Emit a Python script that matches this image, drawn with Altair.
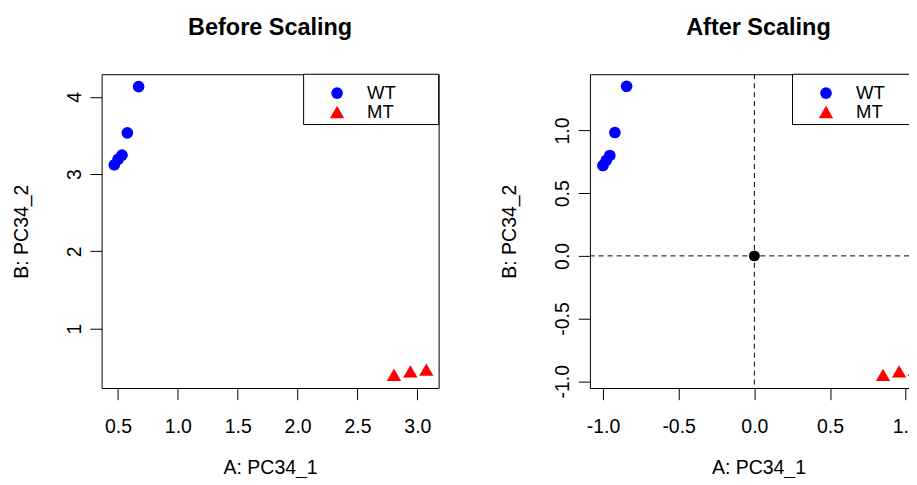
import altair as alt
import pandas as pd

FONT = "Liberation Sans"

groups = ["WT", "MT"]
colors = ["#0000FF", "#FF0000"]
shapes = ["circle", "triangle-up"]

# Before scaling
before_wt_x = [0.469, 0.500, 0.533, 0.578, 0.672]
before_wt_y = [3.121, 3.190, 3.245, 3.535, 4.133]
before_mt_x = [2.805, 2.942, 3.075]
before_mt_y = [0.402, 0.447, 0.469]

# After scaling
after_wt_x = [-1.000, -0.978, -0.955, -0.921, -0.844]
after_wt_y = [0.721, 0.762, 0.801, 0.984, 1.353]
after_mt_x = [0.850, 0.956, 1.059]
after_mt_y = [-0.949, -0.921, -0.907]
origin_x = [0.0]
origin_y = [0.0]

before_x_ticks = [0.5, 1.0, 1.5, 2.0, 2.5, 3.0]
before_y_ticks = [1, 2, 3, 4]
after_x_ticks = [-1.0, -0.5, 0.0, 0.5, 1.0]
after_y_ticks = [-1.0, -0.5, 0.0, 0.5, 1.0]

W = 337.7
H = 314.4


def make_df(wx, wy, mx, my):
    return pd.DataFrame({
        "x": wx + mx,
        "y": wy + my,
        "group": ["WT"] * len(wx) + ["MT"] * len(mx),
    })


def panel(df, title, xdom, ydom, xticks, yticks, xlabel_expr, ylabel_expr,
          legend_box_x, with_origin):
    xscale = alt.Scale(domain=xdom, nice=False, zero=False)
    yscale = alt.Scale(domain=ydom, nice=False, zero=False)
    xaxis = alt.Axis(values=xticks, title="A: PC34_1", labelExpr=xlabel_expr,
                     domain=False, grid=False, tickSize=11.7, tickColor="black",
                     tickWidth=1, labelFont=FONT, labelFontSize=19.5,
                     labelColor="black", labelBaseline="alphabetic",
                     labelPadding=32.6, labelFlush=False, labelOverlap=False,
                     titleFont=FONT, titleFontSize=19.5, titleFontWeight="normal",
                     titleColor="black", titleBaseline="alphabetic",
                     titleX=W / 2, titleY=85.8, titleAlign="center")
    yaxis = alt.Axis(values=yticks, title="B: PC34_2", labelExpr=ylabel_expr,
                     domain=False, grid=False, tickSize=11.7, tickColor="black",
                     tickWidth=1, labelFont=FONT, labelFontSize=19.5,
                     labelColor="black", labelAngle=270, labelAlign="center",
                     labelBaseline="alphabetic", labelPadding=9.5,
                     labelFlush=False, labelOverlap=False,
                     titleFont=FONT, titleFontSize=19.5, titleFontWeight="normal",
                     titleColor="black", titleAngle=270,
                     titleBaseline="alphabetic", titleX=-74.5, titleY=H / 2,
                     titleAlign="center")
    leg = alt.Legend(orient="none", legendX=legend_box_x + 24.3, legendY=9.6,
                     title=None, symbolSize=100, symbolStrokeWidth=0,
                     symbolOpacity=1, labelFont=FONT, labelFontSize=18.5,
                     labelColor="black", labelOffset=20.8, padding=0,
                     rowPadding=-4.5)

    frame_df = pd.DataFrame({"a": [0]})
    frame = alt.Chart(frame_df).mark_rect(
        fill="white", stroke="black", strokeWidth=1
    ).encode(
        x=alt.value(legend_box_x), x2=alt.value(W),
        y=alt.value(0), y2=alt.value(50.4)
    )

    pts = alt.Chart(df).mark_point(filled=True, opacity=1).encode(
        x=alt.X("x:Q", scale=xscale, axis=xaxis),
        y=alt.Y("y:Q", scale=yscale, axis=yaxis),
        color=alt.Color("group:N", scale=alt.Scale(domain=groups, range=colors),
                        legend=leg),
        shape=alt.Shape("group:N", scale=alt.Scale(domain=groups, range=shapes),
                        legend=leg),
        size=alt.Size("group:N", scale=alt.Scale(domain=groups, range=[137, 205]),
                      legend=None),
    )

    layers = [frame, pts]
    if with_origin:
        odf = pd.DataFrame({"x": origin_x, "y": origin_y})
        vrule = alt.Chart(odf).mark_rule(
            color="black", strokeWidth=1, strokeDash=[5, 4]
        ).encode(x=alt.X("x:Q", scale=xscale, axis=xaxis))
        hrule = alt.Chart(odf).mark_rule(
            color="black", strokeWidth=1, strokeDash=[5, 4]
        ).encode(y=alt.Y("y:Q", scale=yscale, axis=yaxis))
        opt = alt.Chart(odf).mark_circle(color="black", opacity=1, size=121).encode(
            x=alt.X("x:Q", scale=xscale, axis=xaxis),
            y=alt.Y("y:Q", scale=yscale, axis=yaxis),
        )
        layers = [vrule, hrule, frame, pts, opt]

    return alt.layer(*layers).properties(
        width=W, height=H,
        title=alt.TitleParams(title, font=FONT, fontSize=23.5, fontWeight="bold",
                              color="black", anchor="middle",
                              baseline="alphabetic", offset=15.4),
    )


left = panel(make_df(before_wt_x, before_wt_y, before_mt_x, before_mt_y),
             "Before Scaling", [0.363, 3.178], [0.231, 4.293],
             before_x_ticks, before_y_ticks,
             "format(datum.value, '.1f')", "format(datum.value, 'd')",
             202.4, False)
right = panel(make_df(after_wt_x, after_wt_y, after_mt_x, after_mt_y),
              "After Scaling", [-1.086, 1.140], [-1.054, 1.449],
              after_x_ticks, after_y_ticks,
              "(datum.value < 0 ? '-' : '') + format(abs(datum.value), '.1f')",
              "(datum.value < 0 ? '-' : '') + format(abs(datum.value), '.1f')",
              203.0, True)

chart = alt.hconcat(left, right, spacing=59.3).resolve_scale(
    color="independent", shape="independent", size="independent"
).resolve_legend(
    color="independent", shape="independent"
).properties(
    padding={"left": 2.8, "top": 6.9, "right": -19, "bottom": -0.5},
    background="white",
).configure_view(
    stroke="black", strokeWidth=1
)

chart.save("out.html", embed_options={"renderer": "svg", "actions": False})
